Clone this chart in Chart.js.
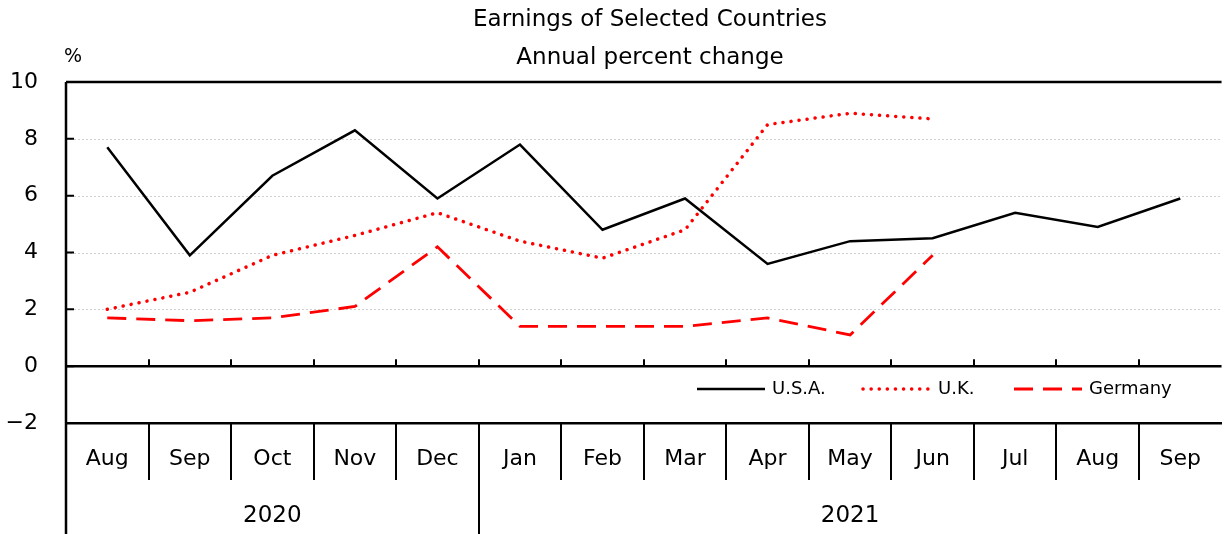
<!DOCTYPE html>
<html>
<head>
<meta charset="utf-8">
<script src="https://cdn.jsdelivr.net/npm/chart.js@4"></script>
<style>
  body { margin: 0; background: #fff; }
  #wrap { width: 1224px; height: 534px; }
</style>
</head>
<body>
<div id="wrap"><canvas id="earningsChart" width="1224" height="534"></canvas></div>
<script>
const months = ['Aug', 'Sep', 'Oct', 'Nov', 'Dec', 'Jan', 'Feb', 'Mar', 'Apr', 'May', 'Jun', 'Jul', 'Aug', 'Sep'];
const years = [{ label: '2020', from: 0, to: 4 }, { label: '2021', from: 5, to: 13 }];
const usa = [7.7, 3.9, 6.7, 8.3, 5.9, 7.8, 4.8, 5.9, 3.6, 4.4, 4.5, 5.4, 4.9, 5.9];
const uk = [2.0, 2.6, 3.9, 4.6, 5.4, 4.4, 3.8, 4.8, 8.5, 8.9, 8.7, null, null, null];
const germany = [1.7, 1.6, 1.7, 2.1, 4.2, 1.4, 1.4, 1.4, 1.7, 1.1, 3.9, null, null, null];
const yTicks = [-2, 0, 2, 4, 6, 8, 10];

const FONT = "'DejaVu Sans', Verdana, sans-serif";

// dotted horizontal gridlines behind the lines
const gridLines = {
  id: 'gridLines',
  beforeDatasetsDraw(chart) {
    const { ctx, chartArea: a, scales } = chart;
    ctx.save();
    ctx.strokeStyle = '#d0d0d0';
    ctx.lineWidth = 1;
    ctx.setLineDash([2, 2]);
    [2, 4, 6, 8].forEach(v => {
      const py = Math.round(scales.y.getPixelForValue(v)) + 0.5;
      ctx.beginPath();
      ctx.moveTo(a.left, py); ctx.lineTo(a.right, py);
      ctx.stroke();
    });
    ctx.restore();
  }
};

// titles, frame, zero line, category boxes and the legend
const decorations = {
  id: 'decorations',
  afterDraw(chart) {
    const { ctx, chartArea: a, scales } = chart;
    const y = scales.y;
    const n = months.length;
    const step = (a.right - a.left) / n;
    const bottom = chart.height;
    ctx.save();
    ctx.fillStyle = '#000';
    ctx.font = '23px ' + FONT;
    ctx.textAlign = 'center';
    ctx.textBaseline = 'middle';
    ctx.fillText('Earnings of Selected Countries', 650, 20);
    ctx.fillText('Annual percent change', 650, 58);
    ctx.font = '19px ' + FONT;
    ctx.fillText('%', 73, 57);

    ctx.strokeStyle = '#000';
    ctx.lineWidth = 2.5;
    ctx.lineCap = 'butt';
    ctx.beginPath();
    ctx.moveTo(a.left, a.top); ctx.lineTo(a.right, a.top);
    ctx.moveTo(a.left, a.top); ctx.lineTo(a.left, bottom);
    const y0 = y.getPixelForValue(0);
    ctx.moveTo(a.left, y0); ctx.lineTo(a.right, y0);
    ctx.stroke();

    ctx.lineWidth = 2;
    ctx.beginPath();
    for (let i = 1; i < n; i++) {
      const bx = Math.round(a.left + i * step);
      ctx.moveTo(bx, y0); ctx.lineTo(bx, y0 - 7);
      ctx.moveTo(bx, a.bottom); ctx.lineTo(bx, a.bottom + 57);
    }
    years.forEach(yr => {
      if (yr.from > 0) {
        const bx = Math.round(a.left + yr.from * step);
        ctx.moveTo(bx, a.bottom); ctx.lineTo(bx, bottom);
      }
    });
    yTicks.forEach(v => {
      const py = y.getPixelForValue(v);
      ctx.moveTo(a.left, py); ctx.lineTo(a.left + 8, py);
    });
    ctx.stroke();

    ctx.font = '23px ' + FONT;
    years.forEach(yr => {
      const cx = (a.left + yr.from * step + a.left + (yr.to + 1) * step) / 2;
      ctx.fillText(yr.label, cx, 516);
    });

    // legend
    ctx.font = '18px ' + FONT;
    ctx.textAlign = 'left';
    const legendY = 389;
    const starts = [697, 863, 1014];
    chart.data.datasets.forEach((ds, i) => {
      const sx = starts[i];
      ctx.beginPath();
      ctx.strokeStyle = ds.borderColor;
      ctx.lineWidth = ds.borderWidth;
      ctx.lineCap = ds.borderCapStyle || 'butt';
      ctx.setLineDash(ds.borderDash || []);
      ctx.moveTo(sx, legendY); ctx.lineTo(sx + 68, legendY);
      ctx.stroke();
      ctx.setLineDash([]);
      ctx.fillStyle = '#000';
      ctx.fillText(ds.label, sx + 75, legendY);
    });
    ctx.restore();
  }
};

new Chart(document.getElementById('earningsChart'), {
  type: 'line',
  data: {
    labels: months,
    datasets: [
      {
        label: 'U.S.A.',
        data: usa,
        borderColor: '#000',
        borderWidth: 2.5,
        tension: 0,
        pointRadius: 0
      },
      {
        label: 'U.K.',
        data: uk,
        borderColor: '#ff0000',
        borderWidth: 3.5,
        borderDash: [0.1, 8],
        borderCapStyle: 'round',
        tension: 0,
        pointRadius: 0
      },
      {
        label: 'Germany',
        data: germany,
        borderColor: '#ff0000',
        borderWidth: 2.8,
        borderDash: [19, 10],
        tension: 0,
        pointRadius: 0
      }
    ]
  },
  options: {
    responsive: false,
    animation: false,
    layout: { padding: { top: 82, left: 0, right: 0, bottom: 0 } },
    plugins: {
      legend: { display: false },
      title: { display: false },
      tooltip: { enabled: false }
    },
    scales: {
      x: {
        offset: true,
        afterFit(scale) { scale.height = 111; },
        grid: { display: false, drawTicks: false },
        border: { display: true, color: '#000', width: 2.5 },
        ticks: {
          color: '#000',
          font: { family: FONT, size: 22 },
          padding: 23,
          maxRotation: 0,
          autoSkip: false
        }
      },
      y: {
        min: -2,
        max: 10,
        afterFit(scale) { scale.width = 66; },
        afterBuildTicks(scale) { scale.ticks = yTicks.map(v => ({ value: v })); },
        grid: { display: false, drawTicks: false },
        border: { display: false },
        ticks: {
          color: '#000',
          font: { family: FONT, size: 22 },
          padding: 28,
          callback: v => (v < 0 ? '\u2212' + Math.abs(v) : v)
        }
      }
    }
  },
  plugins: [gridLines, decorations]
});
</script>
</body>
</html>
